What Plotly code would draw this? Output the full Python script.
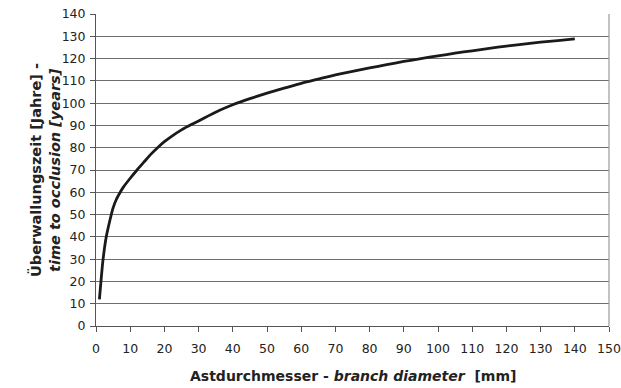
import plotly.graph_objects as go

# Branch diameter [mm]
diameter = [1, 2, 3, 4, 5, 6, 7, 8, 10, 12, 14, 16, 18, 20, 22, 25, 28, 30, 33, 36,
            40, 45, 50, 55, 60, 65, 70, 75, 80, 85, 90, 95, 100, 105, 110, 115,
            120, 125, 130, 135, 140]
# Time to occlusion [years]
occlusion = [12, 29, 40, 47, 53, 57, 59.8, 62.3, 66.3, 70, 73.5, 77, 80, 82.7, 85,
             88, 90.5, 92, 94.4, 96.7, 99.3, 102, 104.5, 106.7, 108.9, 110.8, 112.7,
             114.3, 115.8, 117.3, 118.7, 120, 121.2, 122.4, 123.5, 124.6, 125.6,
             126.5, 127.4, 128.1, 128.8]

x_ticks = list(range(0, 151, 10))
y_ticks = list(range(0, 141, 10))

FONT = "DejaVu Sans"

fig = go.Figure()
fig.add_trace(go.Scatter(
    x=diameter, y=occlusion, mode="lines",
    line=dict(color="#1a1a1a", width=2.8, shape="spline", smoothing=0.5),
    showlegend=False, hoverinfo="skip",
))

fig.update_layout(
    width=621, height=388,
    margin=dict(l=96, r=12, t=14, b=62, autoexpand=False),
    paper_bgcolor="white", plot_bgcolor="white",
    font=dict(family=FONT, size=12, color="#222"),
    xaxis=dict(
        range=[0, 150], tickvals=x_ticks, ticktext=[str(v) for v in x_ticks],
        showgrid=False, zeroline=False, automargin=False,
        showline=True, linecolor="#555", linewidth=1,
        ticks="outside", ticklen=5, tickcolor="#555",
        ticklabelstandoff=6,
        tickfont=dict(family=FONT, size=12.5, color="#222"),
    ),
    yaxis=dict(
        range=[0, 140], tickvals=y_ticks, ticktext=[str(v) for v in y_ticks],
        showgrid=True, gridcolor="#6e6e6e", gridwidth=1,
        zeroline=False, automargin=False,
        showline=True, linecolor="#555", linewidth=1,
        ticks="outside", ticklen=5, tickcolor="#555",
        ticklabelstandoff=2,
        tickfont=dict(family=FONT, size=12.5, color="#222"),
    ),
    shapes=[
        dict(type="line", xref="paper", yref="paper", x0=1, x1=1, y0=0, y1=1,
             line=dict(color="#999", width=1.2)),
    ],
    annotations=[
        dict(xref="paper", yref="paper", x=0.5, y=0, yshift=-50, xanchor="center",
             yanchor="middle", showarrow=False,
             text="<b>Astdurchmesser - <i>branch diameter</i>  [mm]</b>",
             font=dict(family=FONT, size=14, color="#222")),
        dict(xref="paper", yref="paper", x=0, y=0.5, xshift=-61, xanchor="center",
             yanchor="middle", showarrow=False, textangle=-90,
             text="<b>Überwallungszeit [Jahre] -</b>",
             font=dict(family=FONT, size=14.5, color="#222")),
        dict(xref="paper", yref="paper", x=0, y=0.5, xshift=-41, xanchor="center",
             yanchor="middle", showarrow=False, textangle=-90,
             text="<b><i>time to occlusion [years]</i></b>",
             font=dict(family=FONT, size=14.5, color="#222")),
    ],
)

fig.write_html(
    "out.html",
    config={"displayModeBar": False},
    post_script="document.body.style.margin='0px';document.body.style.overflow='hidden';",
)
